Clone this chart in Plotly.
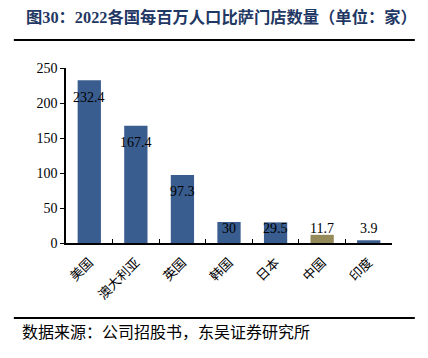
import plotly.graph_objects as go

categories = ["美国", "澳大利亚", "英国", "韩国", "日本", "中国", "印度"]
values = [232.4, 167.4, 97.3, 30, 29.5, 11.7, 3.9]
value_labels = ["232.4", "167.4", "97.3", "30", "29.5", "11.7", "3.9"]
tick_vals = [0, 50, 100, 150, 200, 250]

BLUE = "#3A5D8F"
OLIVE = "#958B5A"
colors = [OLIVE if c == "中国" else BLUE for c in categories]

serif = "Liberation Serif, Times New Roman, serif"
cjk = "Noto Sans CJK SC, sans-serif"

fig = go.Figure()
fig.add_trace(go.Bar(x=categories, y=values, marker=dict(color=colors, line=dict(width=0)),
                     hoverinfo="skip"))

annotations = []
for c, v, t in zip(categories, values, value_labels):
    annotations.append(dict(x=c, y=max(v - 24, 21), text=t, showarrow=False,
                            xref="x", yref="y", yanchor="middle",
                            font=dict(family=serif, size=14, color="#000000")))

annotations.append(dict(xref="paper", yref="paper", x=-0.13, y=1.29, xanchor="left", yanchor="middle",
                        text="<b>图30：2022各国每百万人口比萨门店数量（单位：家）</b>", showarrow=False,
                        font=dict(family=f"{serif}, {cjk}", size=16.3, color="#1F3864")))
annotations.append(dict(xref="paper", yref="paper", x=-0.142, y=-0.503, xanchor="left", yanchor="middle",
                        text="数据来源：公司招股书，东吴证券研究所", showarrow=False,
                        font=dict(family=cjk, size=16, color="#000000")))

shapes = [
    dict(type="line", xref="paper", yref="paper", x0=-0.16, x1=1.07, y0=1.16, y1=1.16,
         line=dict(color="#000000", width=2)),
    dict(type="line", xref="paper", yref="paper", x0=-0.16, x1=1.07, y0=-0.429, y1=-0.429,
         line=dict(color="#000000", width=2)),
]

fig.update_layout(
    width=428, height=358,
    margin=dict(l=66, r=36, t=68, b=115, autoexpand=False),
    paper_bgcolor="white", plot_bgcolor="white",
    bargap=0.5, showlegend=False,
    annotations=annotations, shapes=shapes,
)
fig.update_xaxes(showline=True, linecolor="#000000", linewidth=1.5, ticks="inside", tickson="boundaries",
                 ticklen=4, tickcolor="#000000", tickangle=-45, automargin=False, ticklabelstandoff=5,
                 tickfont=dict(family=cjk, size=13, color="#000000"), showgrid=False)
fig.update_yaxes(range=[0, 250], tickvals=tick_vals, showline=True, linecolor="#000000", linewidth=1.5,
                 ticks="outside", ticklen=4, tickcolor="#000000", showgrid=False, zeroline=False,
                 automargin=False, tickfont=dict(family=serif, size=14, color="#000000"))

fig.write_html("out.html", config={"displayModeBar": False},
               post_script="document.body.style.margin='0';document.body.style.padding='0';")
